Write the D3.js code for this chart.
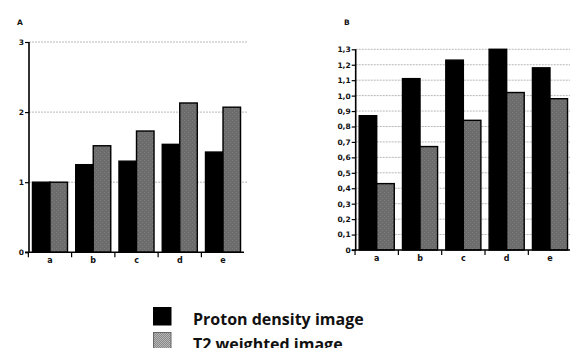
<!DOCTYPE html>
<html>
<head>
<meta charset="utf-8">
<script src="https://cdn.jsdelivr.net/npm/d3@7"></script>
<style>
html,body{margin:0;padding:0;background:#fff;}
svg{display:block;}
text{font-family:"DejaVu Sans",Verdana,sans-serif;}
</style>
</head>
<body>
<svg id="c" width="570" height="348"></svg>
<script>
const categories = ["a","b","c","d","e"];
const seriesNames = ["Proton density image","T2 weighted image"];
const protonA = [1.00, 1.25, 1.30, 1.54, 1.43];
const t2A     = [1.00, 1.52, 1.73, 2.13, 2.07];
const protonB = [0.87, 1.11, 1.23, 1.30, 1.18];
const t2B     = [0.43, 0.67, 0.84, 1.02, 0.98];
const ticksA = [0, 1, 2, 3];
const ticksB = [0,0.1,0.2,0.3,0.4,0.5,0.6,0.7,0.8,0.9,1.0,1.1,1.2,1.3];

const svg = d3.select("#c");
const defs = svg.append("defs");
const pat = defs.append("pattern").attr("id","tex").attr("patternUnits","userSpaceOnUse")
  .attr("width",4).attr("height",4);
pat.append("rect").attr("width",4).attr("height",4).attr("fill","#6c6c6c");
pat.append("rect").attr("x",0).attr("y",0).attr("width",1).attr("height",1).attr("fill","#7e7e7e");
pat.append("rect").attr("x",2).attr("y",2).attr("width",1).attr("height",1).attr("fill","#7e7e7e");

const pat2 = defs.append("pattern").attr("id","tex2").attr("patternUnits","userSpaceOnUse")
  .attr("width",2).attr("height",2);
pat2.append("rect").attr("width",2).attr("height",2).attr("fill","#8a8a8a");
pat2.append("rect").attr("width",1).attr("height",1).attr("fill","#b5b5b5");
pat2.append("rect").attr("x",1).attr("y",1).attr("width",1).attr("height",1).attr("fill","#b5b5b5");

const fills = ["#000", "url(#tex)"];

function panel(opt){
  const g = svg.append("g");
  const x = d3.scaleBand().domain(categories).range([opt.x0, opt.x1])
    .paddingInner(0.19).paddingOuter(0.08);
  const xs = d3.scaleBand().domain([0,1]).range([0, x.bandwidth()]);
  const y = d3.scaleLinear().domain([0, opt.max]).range([opt.yb, opt.yt]);

  g.selectAll("line.grid").data(opt.ticks.filter(d=>d>0)).join("line")
    .attr("x1", opt.x0).attr("x2", opt.gx1)
    .attr("y1", d=>y(d)).attr("y2", d=>y(d))
    .attr("stroke","#b8b8b8").attr("stroke-width",1).attr("stroke-dasharray","2,1");

  const data = [];
  categories.forEach((c,i)=>{
    data.push({c, s:0, v:opt.s1[i]});
    data.push({c, s:1, v:opt.s2[i]});
  });
  g.selectAll("rect.bar").data(data).join("rect")
    .attr("x", d=>x(d.c)+xs(d.s))
    .attr("width", xs.bandwidth())
    .attr("y", d=>y(d.v))
    .attr("height", d=>y(0)-y(d.v))
    .attr("fill", d=>fills[d.s])
    .attr("stroke","#000").attr("stroke-width",1.4);

  const ya = d3.axisLeft(y).tickValues(opt.ticks).tickSize(4).tickFormat(opt.fmt);
  const yg = g.append("g").attr("transform",`translate(${opt.x0},0)`).call(ya);
  yg.select(".domain").attr("stroke","#000").attr("stroke-width",1.6).attr("d",`M-4,${y(0)}H0V${opt.yt}`);
  yg.selectAll(".tick line").attr("stroke","#000").attr("stroke-width",1.2);
  yg.selectAll(".tick text").attr("font-size",opt.fs).attr("font-weight","bold")
    .attr("fill","#111").attr("x",-5).attr("font-family","'DejaVu Sans', Verdana, sans-serif");

  g.append("line").attr("x1",opt.x0).attr("x2",opt.x1).attr("y1",y(0)).attr("y2",y(0))
    .attr("stroke","#000").attr("stroke-width",1.6);
  const step = x.step();
  const bounds = categories.map(c=>x(c)-step*x.paddingInner()/2);
  g.selectAll("line.xt").data(bounds).join("line")
    .attr("x1",d=>d).attr("x2",d=>d).attr("y1",y(0)).attr("y2",y(0)+5)
    .attr("stroke","#000").attr("stroke-width",1.2);
  g.selectAll("text.xl").data(categories).join("text")
    .attr("x",d=>x(d)+x.bandwidth()/2).attr("y",y(0)+11)
    .attr("text-anchor","middle").attr("font-size",8).attr("font-weight","bold")
    .attr("fill","#111").text(d=>d);

  g.append("text").attr("x",opt.lx).attr("y",opt.ly).attr("font-size",7.5)
    .attr("font-weight","bold").attr("fill","#111").text(opt.label);
}

panel({x0:29, x1:244, gx1:248, yb:252.3, yt:42, max:3, ticks:ticksA,
  fmt:d3.format("d"), s1:protonA, s2:t2A, fs:7.5, label:"A", lx:17, ly:25});
panel({x0:355.7, x1:571, gx1:570, yb:250, yt:49.3, max:1.3, ticks:ticksB,
  fmt:d=> d===0 ? "0" : d3.format(".1f")(d).replace(".",","), s1:protonB, s2:t2B, fs:7.5, label:"B", lx:344, ly:25});

const lg = svg.append("g");
const lfills = ["#000","url(#tex2)"];
const lstroke = ["#000","#666"];
seriesNames.forEach((n,i)=>{
  lg.append("rect").attr("x",153.5).attr("y",307.5+i*25).attr("width",17.5).attr("height",17.5)
    .attr("fill",lfills[i]).attr("stroke",lstroke[i]).attr("stroke-width",1);
  lg.append("text").attr("x",193).attr("y",325+i*25).attr("font-size",16)
    .attr("font-weight",700).attr("fill","#111")
    .style("font-family","'Open Sans', sans-serif").text(n);
});
</script>
</body>
</html>
